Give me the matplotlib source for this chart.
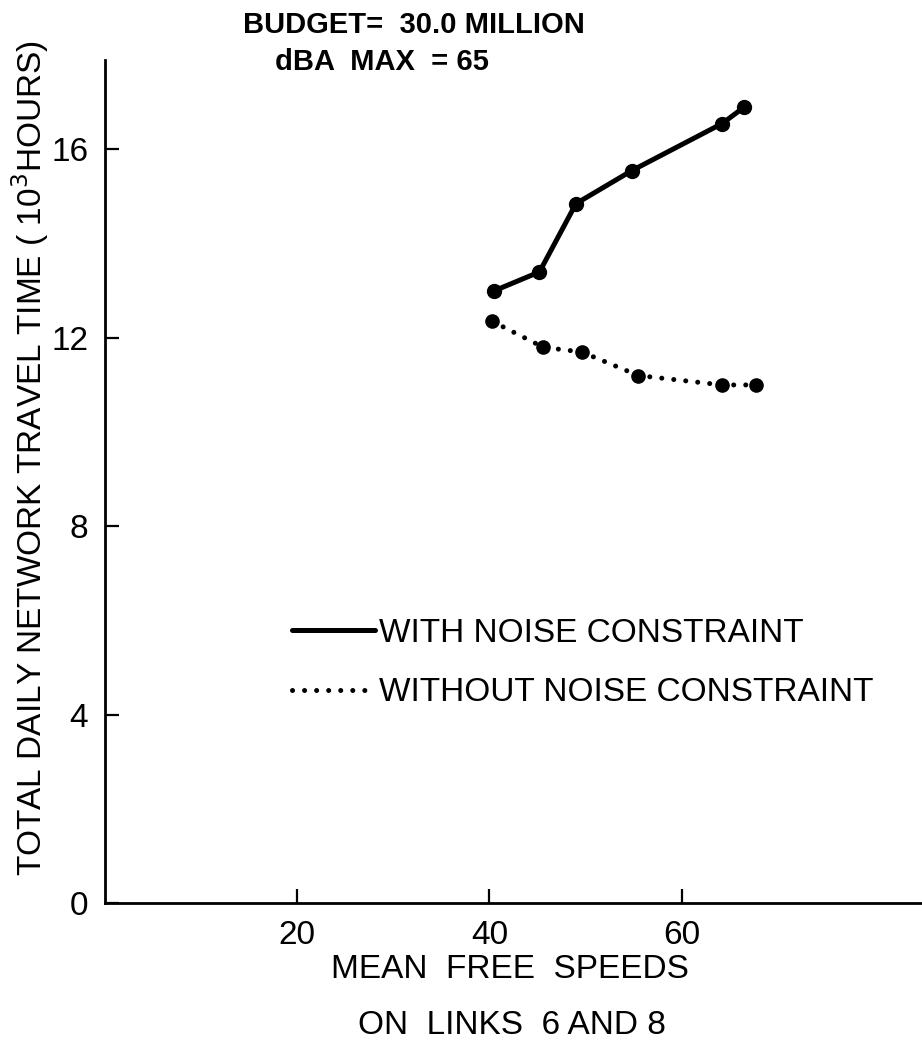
import matplotlib.pyplot as plt

# mean free speed vs total daily travel time
speed_with = [40.5, 45.2, 49.0, 54.8, 64.2, 66.5]
time_with = [13.0, 13.4, 14.85, 15.55, 16.55, 16.9]

speed_without = [40.3, 45.6, 49.6, 55.5, 64.2, 67.7]
time_without = [12.35, 11.8, 11.7, 11.2, 11.0, 11.0]

x_ticks = [20, 40, 60]
y_ticks = [0, 4, 8, 12, 16]

plt.rcParams['font.family'] = ['Liberation Sans', 'DejaVu Sans']

W, H = 922, 1057
fig = plt.figure(figsize=(W / 100, H / 100), dpi=100)
ax = fig.add_axes([105 / W, (H - 903) / H, (W - 105) / W, (903 - 60) / H])

dotted = (0, (0.01, 2.4))

ax.plot(speed_with, time_with, color='black', lw=3.6, solid_capstyle='round',
        label='WITH NOISE CONSTRAINT')
ax.plot(speed_without, time_without, color='black', lw=3.6, linestyle=dotted,
        dash_capstyle='round', label='WITHOUT NOISE CONSTRAINT')
ax.plot(speed_with, time_with, 'o', color='black', ms=10)
ax.plot(speed_without, time_without, 'o', color='black', ms=9.5)

ax.set_xlim(0, 85)
ax.set_ylim(0, 17.9)
ax.set_xticks(x_ticks)
ax.set_yticks(y_ticks)
ax.tick_params(direction='in', length=10, width=1.6, labelsize=24, pad=12)

for s in ['top', 'right']:
    ax.spines[s].set_visible(False)
for s in ['left', 'bottom']:
    ax.spines[s].set_linewidth(2)

leg = ax.legend(loc='upper left', bbox_to_anchor=(292 / W, 1 - 618 / H),
                bbox_transform=fig.transFigure, frameon=False, fontsize=24,
                handlelength=2.5, handletextpad=0.1, labelspacing=0.85,
                borderpad=0, borderaxespad=0)

fig.text(243 / W, 1 - 25 / H, 'BUDGET=  30.0 MILLION', fontsize=21,
         fontweight='bold', ha='left', va='center')
fig.text(275 / W, 1 - 62 / H, 'dBA  MAX  = 65', fontsize=21,
         fontweight='bold', ha='left', va='center')

fig.text(30 / W, 1 - 458 / H,
         r'TOTAL DAILY NETWORK TRAVEL TIME ( 10$^3$HOURS)',
         rotation=90, fontsize=24, ha='center', va='center')

fig.text(510 / W, 1 - 969 / H, 'MEAN  FREE  SPEEDS', fontsize=24,
         ha='center', va='center')
fig.text(512 / W, 1 - 1025 / H, 'ON  LINKS  6 AND 8', fontsize=24,
         ha='center', va='center')

fig.savefig('out.png', dpi=100)
